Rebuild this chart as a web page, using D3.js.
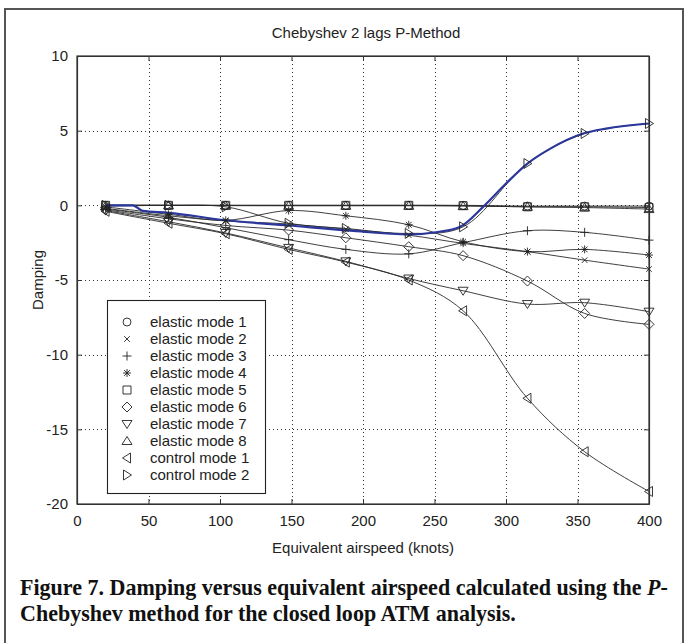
<!DOCTYPE html>
<html><head><meta charset="utf-8">
<script src="https://cdn.jsdelivr.net/npm/d3@7"></script>
<style>
html,body{margin:0;padding:0;background:#fff;}
svg{display:block;}
</style></head>
<body>
<svg id="chart" width="684" height="643"></svg>
<script>
// ---- data ----
const airspeed = [20, 64, 104, 148, 188, 232, 270, 315, 355, 400];
const elasticMode1 = [0, 0, 0, 0, 0, 0, 0, -0.05, -0.05, -0.05];
const elasticMode2 = [-0.2, -0.7, -1.05, -1.25, -1.6, -2.0, -2.55, -3.1, -3.67, -4.27];
const elasticMode3 = [-0.25, -0.8, -1.5, -2.3, -2.95, -3.25, -2.5, -1.7, -1.81, -2.33];
const elasticMode4 = [-0.1, -0.6, -1.0, -0.35, -0.7, -1.3, -2.44, -3.1, -2.95, -3.33];
const elasticMode5 = [0, 0, 0, 0, 0, 0, -0.02, -0.1, -0.1, -0.15];
const elasticMode6 = [-0.3, -0.9, -1.35, -1.66, -2.17, -2.77, -3.37, -5.07, -7.24, -7.97];
const elasticMode7 = [-0.35, -1.1, -1.85, -2.85, -3.75, -4.9, -5.72, -6.61, -6.52, -7.12];
const elasticMode8 = [-0.05, 0, -0.02, -0.03, -0.03, -0.03, -0.05, -0.1, -0.15, -0.25];
const controlMode1 = [-0.4, -1.2, -1.9, -2.95, -3.8, -5.0, -7.06, -12.92, -16.5, -19.16];
const controlMode2 = [0, 0, -0.1, -1.2, -1.55, -1.88, -1.44, 2.8, 4.81, 5.48];
const seriesNames = ["elastic mode 1","elastic mode 2","elastic mode 3","elastic mode 4","elastic mode 5",
                     "elastic mode 6","elastic mode 7","elastic mode 8","control mode 1","control mode 2"];
const seriesValues = [elasticMode1, elasticMode2, elasticMode3, elasticMode4, elasticMode5,
                      elasticMode6, elasticMode7, elasticMode8, controlMode1, controlMode2];
// highlighted (blue) trace
const blueAirspeed = [20, 39, 46, 64, 104, 148, 191, 232, 251, 268, 284, 300, 315, 331, 354, 370, 400];
const blueDamping  = [0, 0, -0.37, -0.5, -1.0, -1.35, -1.7, -1.95, -1.8, -1.43, -0.1, 1.46, 2.8, 3.8, 4.81, 5.14, 5.48];
const xTicks = [0, 50, 100, 150, 200, 250, 300, 350, 400];
const yTicks = [-20, -15, -10, -5, 0, 5, 10];
const titleText = "Chebyshev 2 lags P-Method";
const xLabelText = "Equivalent airspeed (knots)";
const yLabelText = "Damping";

// ---- drawing ----
const svg = d3.select("#chart");
const L = 77, R = 649, T = 56, B = 504;
const x = d3.scaleLinear().domain([0, 400]).range([L, R]);
const y = d3.scaleLinear().domain([-20, 10]).range([B, T]);
const FONT = "Liberation Sans, Arial, Helvetica, sans-serif";
const ink = "#222";
const plainFmt = d => String(d);

// outer frame
svg.append("rect").attr("x", 5).attr("y", 9).attr("width", 678).attr("height", 660)
  .attr("fill", "none").attr("stroke", "#555").attr("stroke-width", 2);

// grid
const grid = svg.append("g").attr("stroke", "#333").attr("stroke-width", 1).attr("stroke-dasharray", "1,3");
xTicks.filter(t => t > 0 && t < 400).forEach(t => {
  grid.append("line").attr("x1", Math.round(x(t)) + 0.5).attr("x2", Math.round(x(t)) + 0.5).attr("y1", T).attr("y2", B);
});
yTicks.filter(t => t > -20 && t < 10).forEach(t => {
  grid.append("line").attr("y1", Math.round(y(t)) + 0.5).attr("y2", Math.round(y(t)) + 0.5).attr("x1", L).attr("x2", R);
});

// axes via d3
const axB = svg.append("g").attr("transform", `translate(0,${B})`)
  .call(d3.axisBottom(x).tickValues(xTicks).tickFormat(plainFmt).tickSizeInner(-5).tickSizeOuter(0).tickPadding(11));
const axL = svg.append("g").attr("transform", `translate(${L},0)`)
  .call(d3.axisLeft(y).tickValues(yTicks).tickFormat(plainFmt).tickSizeInner(-5).tickSizeOuter(0).tickPadding(9));
const axT = svg.append("g").attr("transform", `translate(0,${T})`)
  .call(d3.axisTop(x).tickValues(xTicks).tickSizeInner(-5).tickSizeOuter(0).tickFormat(""));
const axR = svg.append("g").attr("transform", `translate(${R},0)`)
  .call(d3.axisRight(y).tickValues(yTicks).tickSizeInner(-5).tickSizeOuter(0).tickFormat(""));
[axB, axL, axT, axR].forEach(g => {
  g.selectAll("path").attr("stroke", "#333").attr("stroke-width", 1.2);
  g.selectAll("line").attr("stroke", "#333");
  g.selectAll("text").attr("font-family", FONT).attr("font-size", 15).attr("fill", ink);
});

// lines
const lineGen = d3.line().x(d => x(d[0])).y(d => y(d[1])).curve(d3.curveCatmullRom.alpha(0.5));
const plot = svg.append("g");
seriesValues.forEach((vals) => {
  plot.append("path").datum(airspeed.map((a, i) => [a, vals[i]]))
    .attr("d", lineGen).attr("fill", "none").attr("stroke", "#2a2a2a").attr("stroke-width", 0.9);
});
// blue trace
const blueGen = d3.line().x(d => x(d[0])).y(d => y(d[1])).curve(d3.curveMonotoneX);
plot.append("path").datum(blueAirspeed.map((a, i) => [a, blueDamping[i]]))
  .attr("d", blueGen).attr("fill", "none").attr("stroke", "#2b379b").attr("stroke-width", 2.2);

// markers
const markerKinds = ["circle","x","plus","star","square","diamond","triDown","triUp","triLeft","triRight"];
function markerPath(k) {
  switch (k) {
    case "circle": return "M-4,0a4,4 0 1,0 8,0a4,4 0 1,0 -8,0Z";
    case "x": return "M-2.8,-2.8L2.8,2.8M-2.8,2.8L2.8,-2.8";
    case "plus": return "M-4.5,0H4.5M0,-4.5V4.5";
    case "star": return "M-4,0H4M0,-4V4M-2.9,-2.9L2.9,2.9M-2.9,2.9L2.9,-2.9";
    case "square": return "M-4,-4H4V4H-4Z";
    case "diamond": return "M0,-5L5,0L0,5L-5,0Z";
    case "triDown": return "M-5,-3.5L5,-3.5L0,4.5Z";
    case "triUp": return "M-5,3.5L5,3.5L0,-4.5Z";
    case "triLeft": return "M3.5,-5L3.5,5L-4.5,0Z";
    case "triRight": return "M-3.5,-5L-3.5,5L4.5,0Z";
  }
}
seriesValues.forEach((vals, si) => {
  plot.selectAll(null).data(airspeed.map((a, i) => [a, vals[i]])).enter()
    .append("path").attr("d", markerPath(markerKinds[si]))
    .attr("transform", d => `translate(${x(d[0])},${y(d[1])})`)
    .attr("fill", "none").attr("stroke", ink).attr("stroke-width", 0.9);
});

// redraw axis box on top
svg.append("rect").attr("x", L).attr("y", T).attr("width", R - L).attr("height", B - T)
  .attr("fill", "none").attr("stroke", "#333").attr("stroke-width", 1.2);

// legend
const lg = svg.append("g");
lg.append("rect").attr("x", 107.5).attr("y", 300.5).attr("width", 158).attr("height", 193)
  .attr("fill", "#fff").attr("stroke", ink).attr("stroke-width", 1.1);
seriesNames.forEach((n, i) => {
  const yy = 322 + i * 17;
  lg.append("path").attr("d", markerPath(markerKinds[i])).attr("transform", `translate(127,${yy})`)
    .attr("fill", "none").attr("stroke", ink).attr("stroke-width", 0.9);
  lg.append("text").attr("x", 150).attr("y", yy).attr("dy", "0.36em")
    .attr("font-family", FONT).attr("font-size", 15).attr("fill", ink).text(n);
});

// titles
svg.append("text").attr("x", (L + R) / 2 + 3).attr("y", 38).attr("text-anchor", "middle")
  .attr("font-family", FONT).attr("font-size", 15).attr("fill", ink).text(titleText);
svg.append("text").attr("x", (L + R) / 2).attr("y", 553).attr("text-anchor", "middle")
  .attr("font-family", FONT).attr("font-size", 15).attr("fill", ink).text(xLabelText);
svg.append("text").attr("transform", `translate(43,${(T + B) / 2}) rotate(-90)`).attr("text-anchor", "middle")
  .attr("font-family", FONT).attr("font-size", 15).attr("fill", ink).text(yLabelText);

// caption
const SERIF = "Liberation Serif, Times New Roman, serif";
const cap1 = svg.append("text").attr("x", 20).attr("y", 595)
  .attr("font-family", SERIF).attr("font-weight", "bold").attr("font-size", 17.5).attr("fill", "#111");
cap1.append("tspan").text("Figure 7. Damping versus equivalent airspeed calculated using the ");
cap1.append("tspan").attr("font-style", "italic").text("P");
cap1.append("tspan").text("-");
const cap2 = svg.append("text").attr("x", 20).attr("y", 621)
  .attr("font-family", SERIF).attr("font-weight", "bold").attr("font-size", 17.5).attr("fill", "#111")
  .text("Chebyshev method for the closed loop ATM analysis.");
const w1 = cap1.node().getComputedTextLength();
const fs = 17.5 * 648 / w1;
cap1.attr("font-size", fs);
cap2.attr("font-size", fs);
</script>
</body></html>
